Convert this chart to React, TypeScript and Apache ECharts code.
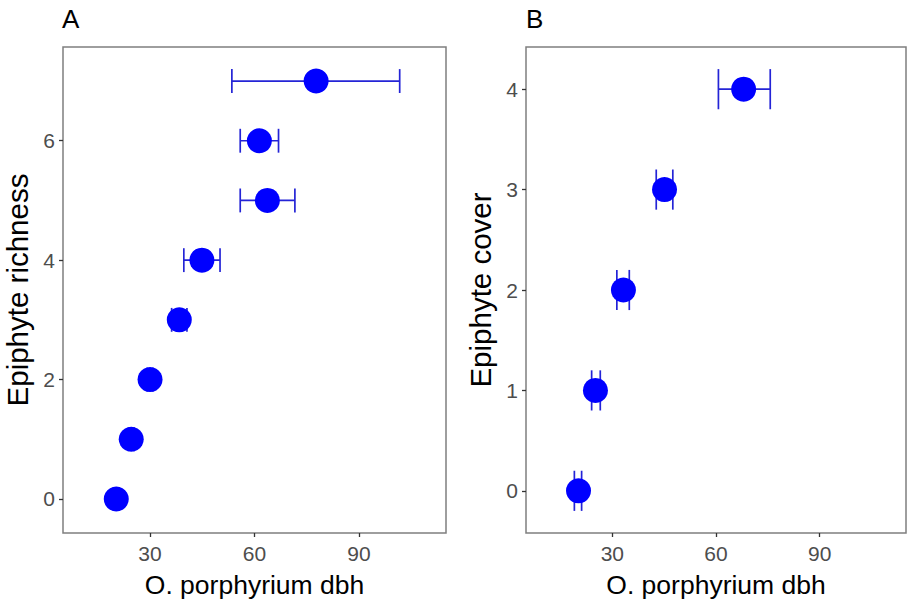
import React, { useEffect, useRef } from "react";
import * as echarts from "echarts";

// Panel A: epiphyte richness vs O. porphyrium dbh
const richness = [0, 1, 2, 3, 4, 5, 6, 7];
const dbhA = [20.3, 24.6, 30.0, 38.4, 44.9, 63.7, 61.4, 77.7];
const dbhALow = [19.5, 23.8, 29.2, 36.2, 39.7, 55.9, 55.9, 53.5];
const dbhAHigh = [21.1, 25.4, 30.8, 40.6, 50.1, 71.6, 66.9, 101.7];

// Panel B: epiphyte cover vs O. porphyrium dbh
const cover = [0, 1, 2, 3, 4];
const dbhB = [20.2, 25.1, 33.2, 45.1, 68.0];
const dbhBLow = [19.0, 24.0, 31.3, 42.7, 60.7];
const dbhBHigh = [21.1, 26.5, 34.9, 47.5, 75.7];

const xTicks = [30, 60, 90];
const yTicksA = [0, 2, 4, 6];
const yTicksB = [0, 1, 2, 3, 4];

const FONT = "'Liberation Sans', Arial, Helvetica, sans-serif";
const POINT = "#0000ff";
const BAR = "#2424d6";
const CAP = 0.2;

function errRender(params: any, api: any) {
  const y = api.value(1);
  const lo = api.coord([api.value(2), y]);
  const hi = api.coord([api.value(3), y]);
  const capTop = api.coord([api.value(2), y + CAP]);
  const capBot = api.coord([api.value(2), y - CAP]);
  const style = { stroke: BAR, lineWidth: 1.7 };
  return {
    type: "group",
    children: [
      { type: "line", shape: { x1: lo[0], y1: lo[1], x2: hi[0], y2: hi[1] }, style },
      { type: "line", shape: { x1: lo[0], y1: capTop[1], x2: lo[0], y2: capBot[1] }, style },
      { type: "line", shape: { x1: hi[0], y1: capTop[1], x2: hi[0], y2: capBot[1] }, style },
    ],
  };
}

function xAxisCfg(gridIndex: number) {
  return {
    type: "value",
    gridIndex,
    min: 5,
    max: 115,
    name: "O. porphyrium dbh",
    nameLocation: "middle",
    nameGap: 38,
    nameTextStyle: { fontSize: 26.5, color: "#000", fontFamily: FONT },
    axisLine: { show: false, onZero: false },
    axisTick: { show: true, length: 4, customValues: xTicks, lineStyle: { color: "#333", width: 1.3 } },
    axisLabel: { customValues: xTicks, fontSize: 21, color: "#4d4d4d", fontFamily: FONT, margin: 10 },
    splitLine: { show: false },
  };
}

function yAxisCfg(gridIndex: number, name: string, min: number, max: number, ticks: number[]) {
  return {
    type: "value",
    gridIndex,
    min,
    max,
    name,
    nameLocation: "middle",
    nameGap: 31,
    nameTextStyle: { fontSize: 29.5, color: "#000", fontFamily: FONT },
    axisLine: { show: false, onZero: false },
    axisTick: { show: true, length: 4, customValues: ticks, lineStyle: { color: "#333", width: 1.3 } },
    axisLabel: { customValues: ticks, fontSize: 21, color: "#4d4d4d", fontFamily: FONT, margin: 8 },
    splitLine: { show: false },
  };
}

export default function App() {
  const ref = useRef<HTMLDivElement>(null);
  useEffect(() => {
    if (!ref.current) return;
    const chart = echarts.init(ref.current, undefined, { renderer: "svg" });
    const errA = richness.map((r, i) => [dbhA[i], r, dbhALow[i], dbhAHigh[i]]);
    const errB = cover.map((c, i) => [dbhB[i], c, dbhBLow[i], dbhBHigh[i]]);
    chart.setOption({
      animation: false,
      backgroundColor: "#fff",
      grid: [
        { left: 63, top: 47, width: 383, height: 490, show: true, borderColor: "#7f7f7f", borderWidth: 1.5, backgroundColor: "transparent" },
        { left: 526, top: 47, width: 380, height: 490, show: true, borderColor: "#7f7f7f", borderWidth: 1.5, backgroundColor: "transparent" },
      ],
      xAxis: [xAxisCfg(0), xAxisCfg(1)],
      yAxis: [
        yAxisCfg(0, "Epiphyte richness", -0.57, 7.57, yTicksA),
        yAxisCfg(1, "Epiphyte cover", -0.42, 4.42, yTicksB),
      ],
      graphic: [
        { type: "text", left: 62, top: 6, style: { text: "A", fontSize: 26, fill: "#000", fontFamily: FONT } },
        { type: "text", left: 526, top: 6, style: { text: "B", fontSize: 26, fill: "#000", fontFamily: FONT } },
      ],
      series: [
        { type: "custom", xAxisIndex: 0, yAxisIndex: 0, data: errA, renderItem: errRender, z: 2, clip: false },
        {
          type: "scatter",
          xAxisIndex: 0,
          yAxisIndex: 0,
          data: richness.map((r, i) => [dbhA[i], r]),
          symbolSize: 25,
          itemStyle: { color: POINT, opacity: 1 },
          z: 3,
        },
        { type: "custom", xAxisIndex: 1, yAxisIndex: 1, data: errB, renderItem: errRender, z: 2, clip: false },
        {
          type: "scatter",
          xAxisIndex: 1,
          yAxisIndex: 1,
          data: cover.map((c, i) => [dbhB[i], c]),
          symbolSize: 25,
          itemStyle: { color: POINT, opacity: 1 },
          z: 3,
        },
      ],
    });
    return () => chart.dispose();
  }, []);
  return <div ref={ref} style={{ position: "fixed", left: 0, top: 0, width: 907, height: 603 }} />;
}
